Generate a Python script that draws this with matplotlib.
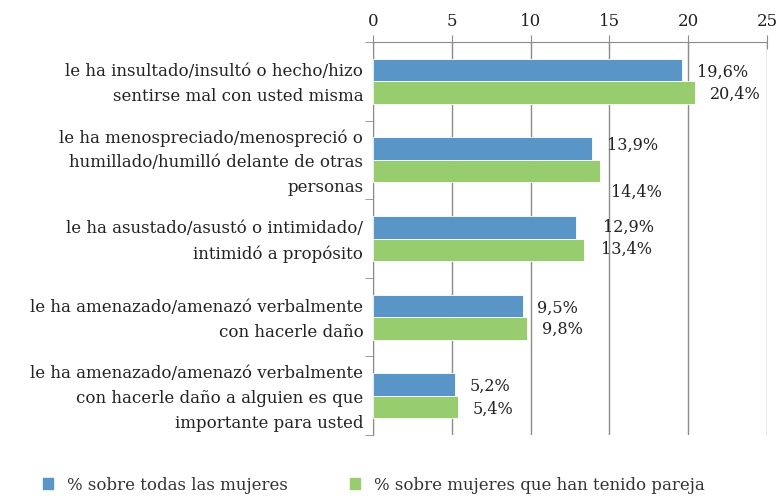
import numpy as np
import matplotlib.pyplot as plt
from matplotlib.patches import Patch

# datos
categorias = [
    "le ha insultado/insultó o hecho/hizo\nsentirse mal con usted misma",
    "le ha menospreciado/menospreció o\nhumillado/humilló delante de otras\npersonas",
    "le ha asustado/asustó o intimidado/\nintimidó a propósito",
    "le ha amenazado/amenazó verbalmente\ncon hacerle daño",
    "le ha amenazado/amenazó verbalmente\ncon hacerle daño a alguien es que\nimportante para usted",
]
todas = [19.6, 13.9, 12.9, 9.5, 5.2]
con_pareja = [20.4, 14.4, 13.4, 9.8, 5.4]
series = ["% sobre todas las mujeres", "% sobre mujeres que han tenido pareja"]

azul = "#5A95C8"
verde = "#97CD6E"
gris = "#8C8C8C"
texto = "#222222"

plt.rcParams['font.family'] = ['DejaVu Serif']

fig = plt.figure(figsize=(7.78, 4.96), dpi=100)
ax = fig.add_axes([373 / 778, 1 - 435 / 496, 394 / 778, 393 / 496])

y = np.arange(len(categorias))
h = 0.286
ax.barh(y - h / 2, todas, height=h, color=azul, edgecolor="white", linewidth=0.6, zorder=3)
ax.barh(y + h / 2, con_pareja, height=h, color=verde, edgecolor="white", linewidth=0.6, zorder=3)

# desplazamiento de las etiquetas en píxeles (x a la derecha, y hacia abajo)
dx_azul = [15, 15, 27, 14, 15]
dy_azul = [2, -3, 0, 2, 2]
dx_verde = [15, 11, 17, 15, 15]
dy_verde = [2, 21, 0, 1, 2]
for i in range(len(categorias)):
    ax.annotate(f"{todas[i]:.1f}%".replace(".", ","), (todas[i], y[i] - h / 2),
                xytext=(dx_azul[i] * 0.72, -dy_azul[i] * 0.72), textcoords="offset points",
                va="center", ha="left", fontsize=11.5, color=texto)
    ax.annotate(f"{con_pareja[i]:.1f}%".replace(".", ","), (con_pareja[i], y[i] + h / 2),
                xytext=(dx_verde[i] * 0.72, -dy_verde[i] * 0.72), textcoords="offset points",
                va="center", ha="left", fontsize=11.5, color=texto)

ax.set_xlim(0, 25)
ax.set_ylim(len(categorias) - 0.5, -0.5)
ax.xaxis.tick_top()
ax.set_xticks([0, 5, 10, 15, 20, 25])
ax.tick_params(axis="x", direction="inout", length=10, color=gris, labelsize=12,
               labelcolor=texto, pad=4)
ax.grid(axis="x", color=gris, linewidth=1, zorder=0)

# etiquetas de categoría un poco por encima del centro, como en el original
ax.set_yticks(y - 0.04)
ax.set_yticklabels(categorias, ha="right", fontsize=12, color=texto, linespacing=1.6)
ax.set_yticks(np.arange(len(categorias) + 1) - 0.5, minor=True)
ax.tick_params(axis="y", which="major", length=0, pad=7)
ax.tick_params(axis="y", which="minor", length=6, color=gris, direction="out")

for s in ["bottom", "right"]:
    ax.spines[s].set_visible(False)
for s in ["top", "left"]:
    ax.spines[s].set_color(gris)

handles = [Patch(color=azul), Patch(color=verde)]
fig.legend(handles, series, loc="center left", bbox_to_anchor=(43 / 778, 1 - 485 / 496), ncol=2,
           frameon=False, borderpad=0, borderaxespad=0, handlelength=0.6, handleheight=0.6,
           handletextpad=0.85, columnspacing=3.7, fontsize=12, labelcolor="#333333")

fig.savefig("out.png", dpi=100)
